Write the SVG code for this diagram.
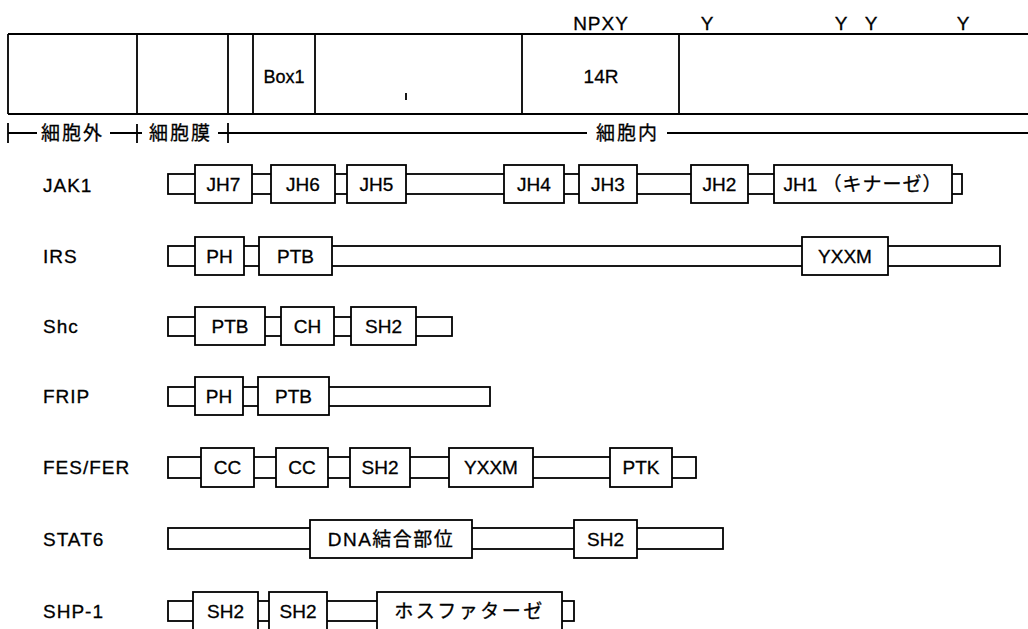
<svg xmlns="http://www.w3.org/2000/svg" width="1028" height="629" viewBox="0 0 1028 629">
<style>
.ln{stroke:#000;stroke-width:1.8;fill:none}
.bx{stroke:#000;stroke-width:1.8;fill:#fff}
text{font-family:"Liberation Sans","Noto Sans CJK JP",sans-serif;font-size:19px;fill:#000;stroke:#000;stroke-width:0.3}
.c{text-anchor:middle}
.j{font-family:"Noto Sans CJK JP","Liberation Sans",sans-serif;letter-spacing:2px}
.m{letter-spacing:1px}
</style>
<rect width="1028" height="629" fill="#fff" stroke="none"/>
<g id="receptor">
<path class="ln" d="M8 34H1030M8 114H1030M8 34V114M137 34V114M228 34V114M253 34V114M315 34V114M522 34V114M679 34V114M406 93V100"/>
<text class="c" x="284" y="83" style="font-size:18px">Box1</text>
<text class="c" x="601" y="83">14R</text>
<text class="c m" x="601" y="30">NPXY</text>
<text class="c" x="707" y="30">Y</text>
<text class="c" x="841" y="30">Y</text>
<text class="c" x="871" y="30">Y</text>
<text class="c" x="963" y="30">Y</text>
</g>
<g id="connectors">
<path class="ln" d="M8 123V143M137 124V143M228 123V143M8 133H37M110 133H142M218 133H587M667 133H1030"/>
<text class="j" x="41" y="140">細胞外</text>
<text class="j" x="149" y="140">細胞膜</text>
<text class="j" x="596" y="140">細胞内</text>
</g>
<g id="JAK1">
<text class="m" x="43" y="192">JAK1</text>
<rect class="bx" x="168" y="174" width="794" height="20"/>
<rect class="bx" x="195" y="165" width="57" height="38"/><text class="c" x="223.5" y="191">JH7</text>
<rect class="bx" x="271" y="165" width="64" height="38"/><text class="c" x="303" y="191">JH6</text>
<rect class="bx" x="347" y="165" width="59" height="38"/><text class="c" x="376.5" y="191">JH5</text>
<rect class="bx" x="504" y="165" width="60" height="38"/><text class="c" x="534" y="191">JH4</text>
<rect class="bx" x="579" y="165" width="58" height="38"/><text class="c" x="608" y="191">JH3</text>
<rect class="bx" x="691" y="165" width="57" height="38"/><text class="c" x="719.5" y="191">JH2</text>
<rect class="bx" x="774" y="165" width="178" height="38"/><text class="c" x="863" y="191">JH1 <tspan style="letter-spacing:1px">（キナーゼ）</tspan></text>
</g>
<g id="IRS">
<text class="m" x="43" y="263">IRS</text>
<rect class="bx" x="168" y="246" width="832" height="20"/>
<rect class="bx" x="195" y="237" width="49" height="38"/><text class="c" x="219.5" y="263">PH</text>
<rect class="bx" x="259" y="237" width="73" height="38"/><text class="c" x="295.5" y="263">PTB</text>
<rect class="bx" x="802" y="237" width="86" height="38"/><text class="c" x="845" y="263">YXXM</text>
</g>
<g id="Shc">
<text class="m" x="43" y="333">Shc</text>
<rect class="bx" x="168" y="317" width="284" height="19"/>
<rect class="bx" x="195" y="307" width="70" height="38"/><text class="c" x="230" y="333">PTB</text>
<rect class="bx" x="281" y="307" width="53" height="38"/><text class="c" x="307.5" y="333">CH</text>
<rect class="bx" x="351" y="307" width="65" height="38"/><text class="c" x="383.5" y="333">SH2</text>
</g>
<g id="FRIP">
<text class="m" x="43" y="403">FRIP</text>
<rect class="bx" x="168" y="387" width="322" height="19"/>
<rect class="bx" x="195" y="377" width="48" height="38"/><text class="c" x="219" y="403">PH</text>
<rect class="bx" x="258" y="377" width="71" height="38"/><text class="c" x="293.5" y="403">PTB</text>
</g>
<g id="FES_FER">
<text class="m" x="43" y="474">FES/FER</text>
<rect class="bx" x="168" y="457" width="528" height="21"/>
<rect class="bx" x="201" y="448" width="53" height="39"/><text class="c" x="227.5" y="474">CC</text>
<rect class="bx" x="276" y="448" width="52" height="39"/><text class="c" x="302" y="474">CC</text>
<rect class="bx" x="350" y="448" width="60" height="39"/><text class="c" x="380" y="474">SH2</text>
<rect class="bx" x="449" y="448" width="84" height="39"/><text class="c" x="491" y="474">YXXM</text>
<rect class="bx" x="610" y="448" width="62" height="39"/><text class="c" x="641" y="474">PTK</text>
</g>
<g id="STAT6">
<text class="m" x="43" y="546">STAT6</text>
<rect class="bx" x="168" y="528" width="555" height="21"/>
<rect class="bx" x="310" y="520" width="162" height="38"/><text class="c" x="391" y="546" style="letter-spacing:1.5px">DNA結合部位</text>
<rect class="bx" x="574" y="520" width="63" height="38"/><text class="c" x="605.5" y="546">SH2</text>
</g>
<g id="SHP-1">
<text class="m" x="43" y="618">SHP-1</text>
<rect class="bx" x="168" y="601" width="406" height="20"/>
<rect class="bx" x="193" y="592" width="65" height="40"/><text class="c" x="225.5" y="618">SH2</text>
<rect class="bx" x="269" y="592" width="58" height="40"/><text class="c" x="298" y="618">SH2</text>
<rect class="bx" x="377" y="592" width="185" height="40"/><text class="c" x="469.5" y="618" style="letter-spacing:2.5px">ホスファターゼ</text>
</g>
</svg>
